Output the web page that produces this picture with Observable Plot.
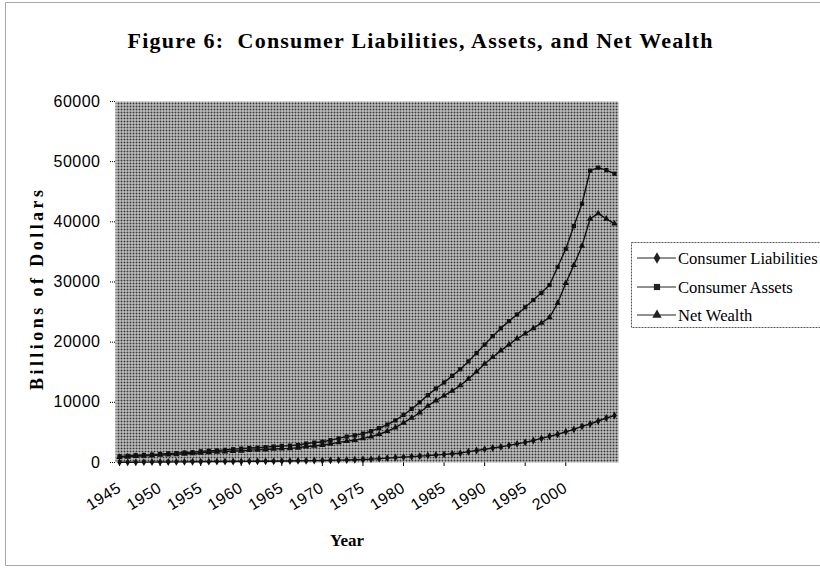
<!DOCTYPE html>
<html>
<head>
<meta charset="utf-8">
<script src="https://cdn.jsdelivr.net/npm/d3@7"></script>
<script src="https://cdn.jsdelivr.net/npm/@observablehq/plot@0.6"></script>
<style>
  html, body { margin: 0; padding: 0; background: #fff; overflow: hidden; }
  #wrap { position: relative; width: 820px; height: 569px; overflow: hidden; }
  #wrap > svg { position: absolute; left: 0; top: 0; }
  #deco { position: absolute; left: 0; top: 0; pointer-events: none; }
</style>
</head>
<body>
<div id="wrap"></div>
<script>
// ---- Data ----
const titleText = "Figure 6:  Consumer Liabilities, Assets, and Net Wealth";
const yTitle = "Billions of Dollars";
const xTitle = "Year";
const seriesNames = ["Consumer Liabilities", "Consumer Assets", "Net Wealth"];
const years = d3.range(1945, 2007);
const liabilities = [
  30, 40, 50, 60, 70, 80, 90, 100, 110, 120,
  130, 140, 150, 160, 170, 180, 190, 200, 210, 220,
  240, 260, 280, 300, 320, 340, 360, 390, 420, 450,
  500, 560, 640, 730, 820, 900, 980, 1060, 1150, 1250,
  1350, 1450, 1550, 1800, 2000, 2200, 2400, 2600, 2850, 3100,
  3350, 3650, 4000, 4350, 4700, 5100, 5500, 6000, 6400, 6900,
  7400, 7800
];
const assets = [
  1000, 1100, 1200, 1250, 1300, 1400, 1500, 1550, 1650, 1700,
  1850, 1950, 2000, 2100, 2200, 2300, 2400, 2450, 2550, 2650,
  2750, 2800, 2900, 3150, 3300, 3450, 3700, 4000, 4300, 4500,
  4800, 5200, 5700, 6300, 7000, 7900, 8900, 10000, 11200, 12300,
  13300, 14400, 15500, 16800, 18200, 19600, 21000, 22300, 23500, 24600,
  25800, 27000, 28200, 29500, 32500, 35500, 39300, 43000, 48500, 49000,
  48600, 48000
];
const netWealth = [
  900, 950, 1050, 1100, 1150, 1250, 1300, 1350, 1450, 1500,
  1600, 1700, 1750, 1800, 1900, 1950, 2050, 2100, 2150, 2250,
  2300, 2350, 2450, 2650, 2750, 2900, 3100, 3350, 3550, 3700,
  4000, 4300, 4700, 5200, 5800, 6600, 7400, 8300, 9400, 10300,
  11100, 11900, 12800, 13900, 15100, 16400, 17500, 18600, 19600, 20600,
  21400, 22300, 23200, 24100, 26500, 29800, 32800, 36000, 40500, 41400,
  40500, 39700
];
const xTickLabels = [1945, 1950, 1955, 1960, 1965, 1970, 1975, 1980, 1985, 1990, 1995, 2000];
const yTickLabels = [0, 10000, 20000, 30000, 40000, 50000, 60000];
const symbols = ["diamond", "square", "triangle"];

// ---- Build table ----
const valueSets = [liabilities, assets, netWealth];
const rows = [];
seriesNames.forEach((s, i) => {
  years.forEach((yr, j) => rows.push({series: s, year: yr, value: valueSets[i][j]}));
});

const chart = Plot.plot({
  width: 820,
  height: 569,
  marginLeft: 115,
  marginRight: 202,
  marginTop: 101,
  marginBottom: 107,
  style: {background: "transparent", fontFamily: "'Liberation Sans', Arial, sans-serif", fontSize: "16px", color: "#000"},
  x: {domain: [1944.5, 2006.5], ticks: xTickLabels, tickFormat: d => String(d), tickRotate: -32, tickSize: 4, tickPadding: 20, label: null},
  y: {domain: [0, 60000], ticks: yTickLabels, tickFormat: d => String(d), tickSize: 6, tickPadding: 9, label: null},
  symbol: {domain: seriesNames, range: symbols},
  marks: [
    Plot.frame({fill: "url(#dither)", stroke: "none"}),
    Plot.line(rows, {x: "year", y: "value", z: "series", stroke: "#111", strokeWidth: 1.4}),
    Plot.dot(rows, {x: "year", y: "value", symbol: "series", fill: "#111", stroke: "none", r: 2.4})
  ]
});

d3.select(chart).insert("defs", ":first-child").html(
  '<pattern id="dither" x="0" y="0" width="3" height="3" patternUnits="userSpaceOnUse">' +
  '<rect width="3" height="3" fill="#e0e0e0"/><rect width="2" height="2" fill="#363636"/></pattern>'
);
d3.select(chart).selectAll('g[aria-label="y-axis tick"] path').attr("stroke-dasharray", "1,1");
d3.select(chart).selectAll('g[aria-label="y-axis tick label"] text, g[aria-label="x-axis tick label"] text').attr("letter-spacing", "0.5px");
document.getElementById("wrap").appendChild(chart);

// ---- Decorations: title, axis titles, legend, chart border ----
const deco = d3.select("#wrap").append("svg").attr("id", "deco").attr("width", 820).attr("height", 569);
deco.append("path").attr("d", "M820,2.5H5.5V565.5H820").attr("fill", "none").attr("stroke", "#aaa").attr("stroke-width", 1);

deco.append("text").text(titleText)
  .attr("x", 420).attr("y", 48).attr("text-anchor", "middle")
  .attr("textLength", 585).attr("lengthAdjust", "spacing")
  .attr("font-family", "'Liberation Serif', 'Times New Roman', serif").attr("font-weight", "bold").attr("font-size", 22)
  .style("white-space", "pre");

deco.append("text").text(yTitle)
  .attr("transform", "translate(43,290) rotate(-90)").attr("text-anchor", "middle")
  .attr("textLength", 200).attr("lengthAdjust", "spacing")
  .attr("font-family", "'Liberation Serif', 'Times New Roman', serif").attr("font-weight", "bold").attr("font-size", 18);

deco.append("text").text(xTitle)
  .attr("x", 347).attr("y", 546).attr("text-anchor", "middle")
  .attr("font-family", "'Liberation Serif', 'Times New Roman', serif").attr("font-weight", "bold").attr("font-size", 17);

// legend box
deco.append("rect").attr("x", 631.5).attr("y", 242.5).attr("width", 220).attr("height", 85)
  .attr("fill", "#fff").attr("stroke", "#555").attr("stroke-dasharray", "2,1");
const legY = [258, 287, 315];
const symGen = {diamond: d3.symbolDiamond, square: d3.symbolSquare, triangle: d3.symbolTriangle};
seriesNames.forEach((s, i) => {
  const g = deco.append("g").attr("transform", `translate(0,${legY[i]})`);
  g.append("line").attr("x1", 637).attr("x2", 676).attr("y1", 0).attr("y2", 0).attr("stroke", "#222").attr("stroke-width", 1.2);
  g.append("path").attr("d", d3.symbol(symGen[symbols[i]], 38)()).attr("transform", "translate(657,0)").attr("fill", "#222");
  g.append("text").text(s).attr("x", 678).attr("y", 6)
    .attr("font-family", "'Liberation Serif', 'Times New Roman', serif").attr("font-size", 16.6);
});
</script>
</body>
</html>
